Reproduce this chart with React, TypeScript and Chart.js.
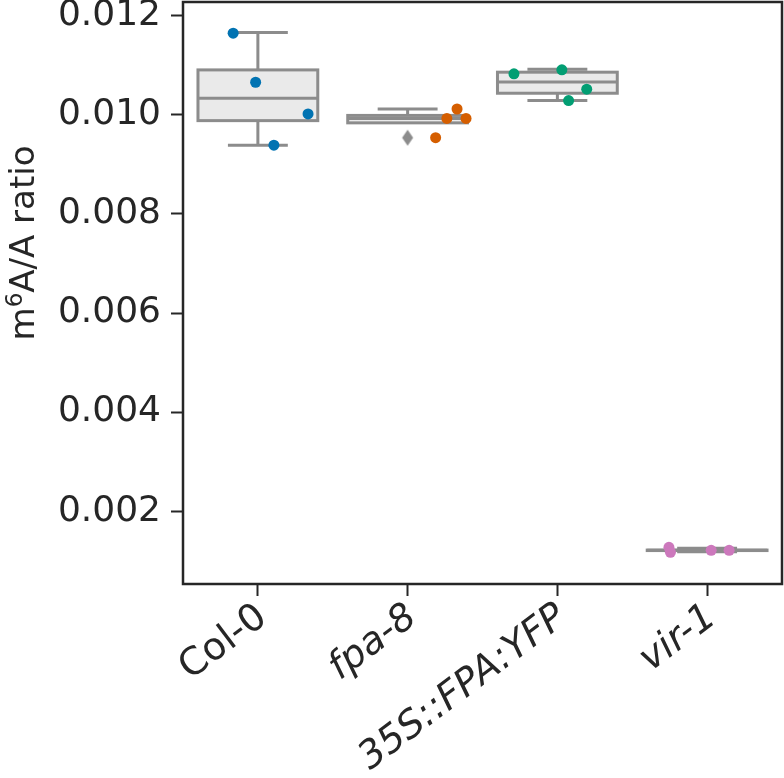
import React, { useEffect, useRef } from "react";
import { Chart, registerables } from "chart.js";

Chart.register(...registerables);

// ---- data ----
const categories = ["Col-0", "fpa-8", "35S::FPA:YFP", "vir-1"];
const italicLabels = [false, true, true, true];
const pointColors = ["#0173b2", "#d55e00", "#029e73", "#cc78bc"];

const colValues = [0.01165, 0.01066, 0.01002, 0.00939];
const colJitter = [-0.165, -0.015, 0.335, 0.107];
const fpaValues = [0.01012, 0.00993, 0.00993, 0.00954];
const fpaJitter = [0.33, 0.262, 0.39, 0.187];
const ppValues = [0.01083, 0.01091, 0.01052, 0.01029];
const ppJitter = [-0.29, 0.03, 0.196, 0.075];
const virValues = [0.00127, 0.00117, 0.00121, 0.00121];
const virJitter = [-0.255, -0.245, 0.027, 0.147];

const boxQ1 = [0.009885, 0.00984, 0.010438, 0.001205];
const boxMedian = [0.010337, 0.00993, 0.010667, 0.00121];
const boxQ3 = [0.010909, 0.00999, 0.010863, 0.001215];
const whiskerLow = [0.009388, 0.00993, 0.010289, 0.00118];
const whiskerHigh = [0.011663, 0.01012, 0.010923, 0.00125];
const outlierGroup = [1];
const outlierValues = [0.00954];

const yTicks = [0.002, 0.004, 0.006, 0.008, 0.01, 0.012];
const yMin = 0.00053;
const yMax = 0.01228;

const groupValues = [colValues, fpaValues, ppValues, virValues];
const groupJitter = [colJitter, fpaJitter, ppJitter, virJitter];

// ---- styles ----
const FONT = "'DejaVu Sans', Verdana, sans-serif";
const TEXT = "#262626";
const BOX_LINE = "#8c8c8c";
const BOX_FILL = "#eaeaea";

const boxPlugin = {
  id: "boxes",
  beforeDatasetsDraw(chart: any) {
    const { ctx, chartArea } = chart;
    const x = chart.scales.x;
    const y = chart.scales.y;
    ctx.save();
    ctx.lineWidth = 3;
    ctx.strokeStyle = BOX_LINE;
    categories.forEach((_, i) => {
      const cx = x.getPixelForValue(i);
      const half = x.getPixelForValue(i + 0.4) - cx;
      const capHalf = half / 2;
      const top = y.getPixelForValue(boxQ3[i]);
      const bot = y.getPixelForValue(boxQ1[i]);
      const wh = y.getPixelForValue(whiskerHigh[i]);
      const wl = y.getPixelForValue(whiskerLow[i]);
      const med = y.getPixelForValue(boxMedian[i]);
      ctx.beginPath();
      ctx.moveTo(cx, top);
      ctx.lineTo(cx, wh);
      ctx.moveTo(cx - capHalf, wh);
      ctx.lineTo(cx + capHalf, wh);
      ctx.moveTo(cx, bot);
      ctx.lineTo(cx, wl);
      ctx.moveTo(cx - capHalf, wl);
      ctx.lineTo(cx + capHalf, wl);
      ctx.stroke();
      ctx.fillStyle = BOX_FILL;
      ctx.fillRect(cx - half, top, 2 * half, bot - top);
      ctx.strokeRect(cx - half, top, 2 * half, bot - top);
      ctx.beginPath();
      ctx.moveTo(cx - half, med);
      ctx.lineTo(cx + half, med);
      ctx.stroke();
    });
    // frame
    ctx.strokeStyle = TEXT;
    ctx.lineWidth = 2.5;
    ctx.strokeRect(
      chartArea.left,
      chartArea.top,
      chartArea.right - chartArea.left,
      chartArea.bottom - chartArea.top
    );
    ctx.restore();
  },
};

const yTitlePlugin = {
  id: "ytitle",
  afterDraw(chart: any) {
    const { ctx } = chart;
    ctx.save();
    ctx.fillStyle = TEXT;
    ctx.textBaseline = "alphabetic";
    ctx.textAlign = "left";
    const big = `34px ${FONT}`;
    const small = `23px ${FONT}`;
    ctx.font = big;
    const wM = ctx.measureText("m").width;
    const wRest = ctx.measureText("A/A ratio").width;
    ctx.font = small;
    const w6 = ctx.measureText("6").width;
    const total = wM + w6 + wRest;
    const baselineX = 34;
    const centerY = 243;
    ctx.translate(baselineX, centerY);
    ctx.rotate(-Math.PI / 2);
    let px = -total / 2;
    ctx.font = big;
    ctx.fillText("m", px, 0);
    px += wM;
    ctx.font = small;
    ctx.fillText("6", px, -12);
    px += w6;
    ctx.font = big;
    ctx.fillText("A/A ratio", px, 0);
    ctx.restore();
  },
};

function makeDiamond(): HTMLCanvasElement {
  const c = document.createElement("canvas");
  c.width = 14;
  c.height = 18;
  const g = c.getContext("2d")!;
  g.fillStyle = BOX_LINE;
  g.beginPath();
  g.moveTo(7, 1);
  g.lineTo(12.5, 9);
  g.lineTo(7, 17);
  g.lineTo(1.5, 9);
  g.closePath();
  g.fill();
  return c;
}

export default function App() {
  const ref = useRef<HTMLCanvasElement>(null);

  useEffect(() => {
    if (!ref.current) return;
    const diamond = makeDiamond();
    const datasets: any[] = groupValues.map((vals, gi) => ({
      label: categories[gi],
      data: vals.map((v, k) => ({ x: gi + groupJitter[gi][k], y: v })),
      backgroundColor: pointColors[gi],
      borderWidth: 0,
      pointRadius: 5.5,
      pointHoverRadius: 5.5,
    }));
    datasets.unshift({
      label: "outliers",
      data: outlierValues.map((v, k) => ({ x: outlierGroup[k], y: v })),
      pointStyle: diamond,
      pointRadius: 8,
      backgroundColor: BOX_LINE,
      borderWidth: 0,
    });

    const chart = new Chart(ref.current, {
      type: "scatter",
      data: { datasets },
      plugins: [boxPlugin, yTitlePlugin],
      options: {
        animation: false,
        responsive: false,
        devicePixelRatio: 1,
        layout: { autoPadding: false, padding: { top: 2, right: 2, left: 0, bottom: 0 } },
        plugins: { legend: { display: false }, tooltip: { enabled: false } },
        scales: {
          x: {
            type: "linear",
            min: -0.5,
            max: 3.5,
            afterBuildTicks: (s: any) => {
              s.ticks = categories.map((_, i) => ({ value: i }));
            },
            afterFit: (s: any) => {
              s.height = 194;
              s.paddingLeft = 0;
              s.paddingRight = 0;
            },
            border: { display: false },
            grid: {
              display: true,
              drawOnChartArea: false,
              drawTicks: true,
              tickLength: 12,
              tickWidth: 2,
              tickColor: TEXT,
            },
            ticks: {
              autoSkip: false,
              minRotation: 37,
              maxRotation: 37,
              padding: -1,
              labelOffset: 5,
              color: TEXT,
              font: (c: any) => ({
                family: FONT,
                size: 38,
                style: italicLabels[c.index] ? "italic" : "normal",
              }),
              callback: (v: any) => categories[v as number] ?? "",
            },
          },
          y: {
            type: "linear",
            min: yMin,
            max: yMax,
            afterBuildTicks: (s: any) => {
              s.ticks = yTicks.map((v) => ({ value: v }));
            },
            afterFit: (s: any) => {
              s.width = 183;
              s.paddingTop = 0;
              s.paddingBottom = 0;
            },
            border: { display: false },
            grid: {
              display: true,
              drawOnChartArea: false,
              drawTicks: true,
              tickLength: 12,
              tickWidth: 2,
              tickColor: TEXT,
            },
            ticks: {
              padding: 10,
              color: TEXT,
              font: { family: FONT, size: 36 },
              callback: (v: any) => Number(v).toFixed(3),
            },
          },
        },
      },
    });
    return () => chart.destroy();
  }, []);

  return (
    <div style={{ position: "absolute", left: 0, top: 0, width: 784, height: 778 }}>
      <canvas ref={ref} width={784} height={778} style={{ display: "block" }} />
    </div>
  );
}
